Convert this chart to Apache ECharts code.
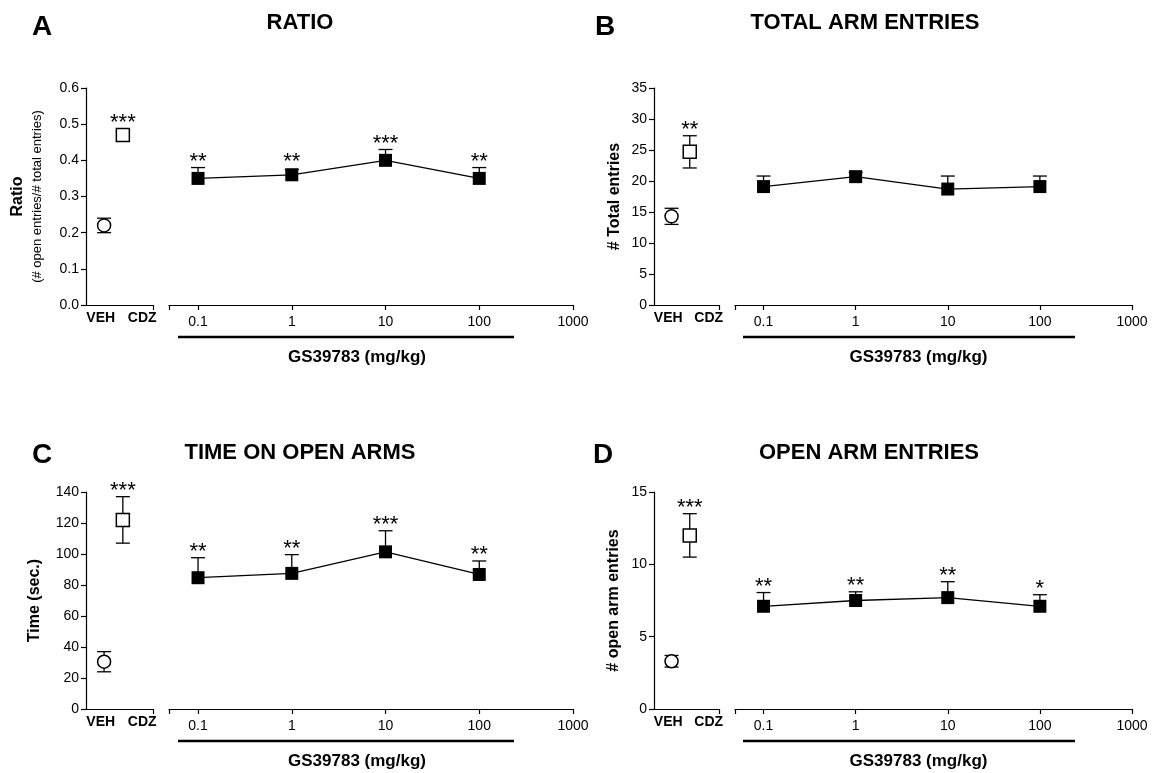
<!DOCTYPE html>
<html><head><meta charset="utf-8">
<script src="https://cdn.jsdelivr.net/npm/echarts@6/dist/echarts.min.js"></script>
<style>html,body{margin:0;padding:0;background:#fff}#c{width:1161px;height:773px}</style>
</head><body><div id="c"></div>
<script>
// ---------------- DATA ----------------
const groupLabels = ['VEH', 'CDZ'];
const doses = [0.1, 1, 10, 100];
const doseAxisLabel = 'GS39783 (mg/kg)';

// Panel A – Ratio
const ratioCtrlMean = [0.22, 0.47];
const ratioCtrlSem = [0.02, 0.01];
const ratioCtrlStars = ['', '***'];
const ratioGsMean = [0.35, 0.36, 0.40, 0.35];
const ratioGsSem = [0.03, 0.015, 0.03, 0.03];
const ratioGsStars = ['**', '**', '***', '**'];
const ratioTicks = [0, 0.6, 0.1];

// Panel B – Total arm entries
const totalCtrlMean = [14.3, 24.7];
const totalCtrlSem = [1.3, 2.6];
const totalCtrlStars = ['', '**'];
const totalGsMean = [19.1, 20.7, 18.7, 19.1];
const totalGsSem = [1.7, 0.7, 2.1, 1.7];
const totalGsStars = ['', '', '', ''];
const totalTicks = [0, 35, 5];

// Panel C – Time on open arms
const timeCtrlMean = [30.5, 122];
const timeCtrlSem = [6.5, 15];
const timeCtrlStars = ['', '***'];
const timeGsMean = [84.7, 87.5, 101.4, 86.8];
const timeGsSem = [12.9, 12.1, 13.6, 8.7];
const timeGsStars = ['**', '**', '***', '**'];
const timeTicks = [0, 140, 20];

// Panel D – Open arm entries
const openCtrlMean = [3.3, 12.0];
const openCtrlSem = [0.4, 1.5];
const openCtrlStars = ['', '***'];
const openGsMean = [7.1, 7.5, 7.7, 7.1];
const openGsSem = [0.95, 0.6, 1.1, 0.8];
const openGsStars = ['**', '**', '**', '*'];
const openTicks = [0, 15, 5];

// ---------------- LAYOUT / STYLE ----------------
const FONT = "'Liberation Sans', Arial, Helvetica, sans-serif";
const CTRL_POS = [0.27, 0.55];
const LOG_MIN = 0.049, LOG_MAX = 1000;

const panels = [
  { letter: 'A', title: 'RATIO', decimals: 1,
    yName: '{b|Ratio}\n{r|(# open entries/# total entries)}',
    ctrlMean: ratioCtrlMean, ctrlSem: ratioCtrlSem, ctrlStars: ratioCtrlStars,
    gsMean: ratioGsMean, gsSem: ratioGsSem, gsStars: ratioGsStars, ticks: ratioTicks,
    L: { x0: 86, xL: 153, xR0: 169, xR1: 573, top: 88, bottom: 305, letter: [42, 27], titleXY: [300, 23], nameGap: 40, gsShift: -14, underline: [178, 514] } },
  { letter: 'B', title: 'TOTAL ARM ENTRIES', decimals: 0,
    yName: '{b|# Total entries}',
    ctrlMean: totalCtrlMean, ctrlSem: totalCtrlSem, ctrlStars: totalCtrlStars,
    gsMean: totalGsMean, gsSem: totalGsSem, gsStars: totalGsStars, ticks: totalTicks,
    L: { x0: 654, xL: 719, xR0: 735, xR1: 1132, top: 88, bottom: 305, letter: [605, 27], titleXY: [865, 23], nameGap: 29, gsShift: -15, underline: [743, 1075] } },
  { letter: 'C', title: 'TIME ON OPEN ARMS', decimals: 0,
    yName: '{b|Time (sec.)}',
    ctrlMean: timeCtrlMean, ctrlSem: timeCtrlSem, ctrlStars: timeCtrlStars,
    gsMean: timeGsMean, gsSem: timeGsSem, gsStars: timeGsStars, ticks: timeTicks,
    L: { x0: 86, xL: 153, xR0: 169, xR1: 573, top: 492, bottom: 709, letter: [42, 455], titleXY: [300, 453], nameGap: 41, gsShift: -14, underline: [178, 514] } },
  { letter: 'D', title: 'OPEN ARM ENTRIES', decimals: 0,
    yName: '{b|# open arm entries}',
    ctrlMean: openCtrlMean, ctrlSem: openCtrlSem, ctrlStars: openCtrlStars,
    gsMean: openGsMean, gsSem: openGsSem, gsStars: openGsStars, ticks: openTicks,
    L: { x0: 654, xL: 719, xR0: 735, xR1: 1132, top: 492, bottom: 709, letter: [603, 455], titleXY: [869, 453], nameGap: 30, gsShift: -15, underline: [743, 1075] } }
];

const AX_LINE = { show: true, lineStyle: { color: '#000', width: 1.2 } };

function makeErr(stars, upperOnly) {
  return function (params, api) {
    const x = api.value(0), m = api.value(1), s = api.value(2);
    const pt = api.coord([x, m]);
    const hi = api.coord([x, m + s]);
    const lo = api.coord([x, m - s]);
    const half = 7;
    const st = { stroke: '#000', lineWidth: 1.3 };
    const ch = [];
    if (s > 0) {
      ch.push({ type: 'line', shape: { x1: pt[0], y1: upperOnly ? pt[1] : lo[1], x2: hi[0], y2: hi[1] }, style: st });
      ch.push({ type: 'line', shape: { x1: hi[0] - half, y1: hi[1], x2: hi[0] + half, y2: hi[1] }, style: st });
      if (!upperOnly) ch.push({ type: 'line', shape: { x1: lo[0] - half, y1: lo[1], x2: lo[0] + half, y2: lo[1] }, style: st });
    }
    const star = stars[params.dataIndex];
    if (star) {
      const yTop = Math.min(hi[1], pt[1] - 6.5);
      ch.push({ type: 'text', style: { text: star, x: pt[0], y: yTop - 6, align: 'center', verticalAlign: 'middle', font: '22px ' + FONT, fill: '#000' } });
    }
    return { type: 'group', children: ch };
  };
}

const grid = [], xAxis = [], yAxis = [], series = [], graphic = [];

panels.forEach((p, i) => {
  const L = p.L;
  const h = L.bottom - L.top;
  const gL = grid.length;
  grid.push({ left: L.x0, top: L.top, width: L.xL - L.x0, height: h });
  grid.push({ left: L.xR0, top: L.top, width: L.xR1 - L.xR0, height: h });
  const gR = gL + 1;

  const [ymin, ymax, yint] = p.ticks;
  const yl = yAxis.length;
  yAxis.push({
    type: 'value', gridIndex: gL, min: ymin, max: ymax, interval: yint,
    axisLine: AX_LINE, splitLine: { show: false },
    axisTick: { show: true, length: 5, lineStyle: { color: '#000', width: 1.2 } },
    axisLabel: { color: '#000', fontSize: 14, fontFamily: FONT, margin: 7,
      formatter: v => v.toFixed(p.decimals) },
    name: p.yName, nameLocation: 'middle', nameRotate: 90, nameGap: L.nameGap,
    nameTextStyle: { color: '#000', fontFamily: FONT,
      rich: { b: { fontSize: 16, fontWeight: 'bold', fontFamily: FONT, lineHeight: 20, color: '#000' },
              r: { fontSize: 13, fontFamily: FONT, lineHeight: 18, color: '#000' } } }
  });
  yAxis.push({ type: 'value', gridIndex: gR, min: ymin, max: ymax, interval: yint, show: false });
  const yr = yl + 1;

  const xv = xAxis.length;
  xAxis.push({
    type: 'value', gridIndex: gL, min: 0, max: 1, interval: 1,
    axisLine: AX_LINE, splitLine: { show: false },
    axisTick: { show: true, length: 5, customValues: [1], lineStyle: { color: '#000', width: 1.2 } },
    axisLabel: { show: false }
  });
  xAxis.push({
    type: 'category', gridIndex: gL, data: groupLabels, position: 'bottom',
    axisLine: { show: false }, axisTick: { show: false }, splitLine: { show: false },
    axisLabel: { margin: 6, interval: 0, hideOverlap: false,
      formatter: v => v === groupLabels[1] ? '{c|' + v + '}' : '{v|' + v + '}',
      rich: { c: { padding: [0, 0, 0, 12], fontSize: 14, fontWeight: 'bold', fontFamily: FONT, color: '#000' },
              v: { padding: [0, 4, 0, 0], fontSize: 14, fontWeight: 'bold', fontFamily: FONT, color: '#000' } } }
  });
  const xl = xAxis.length;
  xAxis.push({
    type: 'log', logBase: 10, gridIndex: gR, min: LOG_MIN, max: LOG_MAX,
    axisLine: AX_LINE, splitLine: { show: false }, minorTick: { show: false },
    axisTick: { show: true, length: 5, lineStyle: { color: '#000', width: 1.2 } },
    axisLabel: { color: '#000', fontSize: 14, fontFamily: FONT, margin: 10, showMinLabel: true, showMaxLabel: true,
      formatter: v => { const l = Math.log10(v); if (Math.abs(l - Math.round(l)) > 1e-6) return ''; return l < 0 ? v.toFixed(-Math.round(l)) : String(Math.round(v)); } },
    name: doseAxisLabel, nameLocation: 'middle', nameGap: 44,
    nameTextStyle: { color: '#000', fontSize: 17, fontWeight: 'bold', fontFamily: FONT,
      padding: [0, -2 * L.gsShift, 0, 0] }
  });

  // control error bars
  series.push({
    type: 'custom', xAxisIndex: xv, yAxisIndex: yl, z: 2, silent: true,
    data: CTRL_POS.map((x, k) => [x, p.ctrlMean[k], p.ctrlSem[k]]),
    encode: { x: 0, y: 1 }, renderItem: makeErr(p.ctrlStars, false)
  });
  // VEH
  series.push({
    type: 'scatter', xAxisIndex: xv, yAxisIndex: yl, z: 3, silent: true,
    symbol: 'circle', symbolSize: 13,
    itemStyle: { color: '#fff', borderColor: '#000', borderWidth: 1.5, opacity: 1 },
    data: [[CTRL_POS[0], p.ctrlMean[0]]]
  });
  // CDZ
  series.push({
    type: 'scatter', xAxisIndex: xv, yAxisIndex: yl, z: 3, silent: true,
    symbol: 'rect', symbolSize: 13,
    itemStyle: { color: '#fff', borderColor: '#000', borderWidth: 1.5, opacity: 1 },
    data: [[CTRL_POS[1], p.ctrlMean[1]]]
  });
  // GS error bars
  series.push({
    type: 'custom', xAxisIndex: xl, yAxisIndex: yr, z: 2, silent: true,
    data: doses.map((d, k) => [d, p.gsMean[k], p.gsSem[k]]),
    encode: { x: 0, y: 1 }, renderItem: makeErr(p.gsStars, true)
  });
  // GS line
  series.push({
    type: 'line', xAxisIndex: xl, yAxisIndex: yr, z: 3, silent: true,
    symbol: 'rect', symbolSize: 13, showSymbol: true,
    lineStyle: { color: '#000', width: 1.3 },
    itemStyle: { color: '#000', borderColor: '#000', borderWidth: 0 },
    data: doses.map((d, k) => [d, p.gsMean[k]]),
    animation: false
  });

  // panel letter + title + bracket line
  graphic.push({ type: 'text', silent: true, style: { text: p.letter, x: L.letter[0], y: L.letter[1], align: 'center', verticalAlign: 'middle', font: 'bold 28px ' + FONT, fill: '#000' } });
  graphic.push({ type: 'text', silent: true, style: { text: p.title, x: L.titleXY[0], y: L.titleXY[1], align: 'center', verticalAlign: 'middle', font: 'bold 22px ' + FONT, fill: '#000' } });
  graphic.push({ type: 'line', silent: true, shape: { x1: L.underline[0], y1: L.bottom + 32, x2: L.underline[1], y2: L.bottom + 32 }, style: { stroke: '#000', lineWidth: 2.5 } });
});

const chart = echarts.init(document.getElementById('c'), null, { renderer: 'canvas' });
chart.setOption({
  animation: false,
  backgroundColor: '#fff',
  textStyle: { fontFamily: FONT },
  grid, xAxis, yAxis, series, graphic
});
</script>
</body></html>
